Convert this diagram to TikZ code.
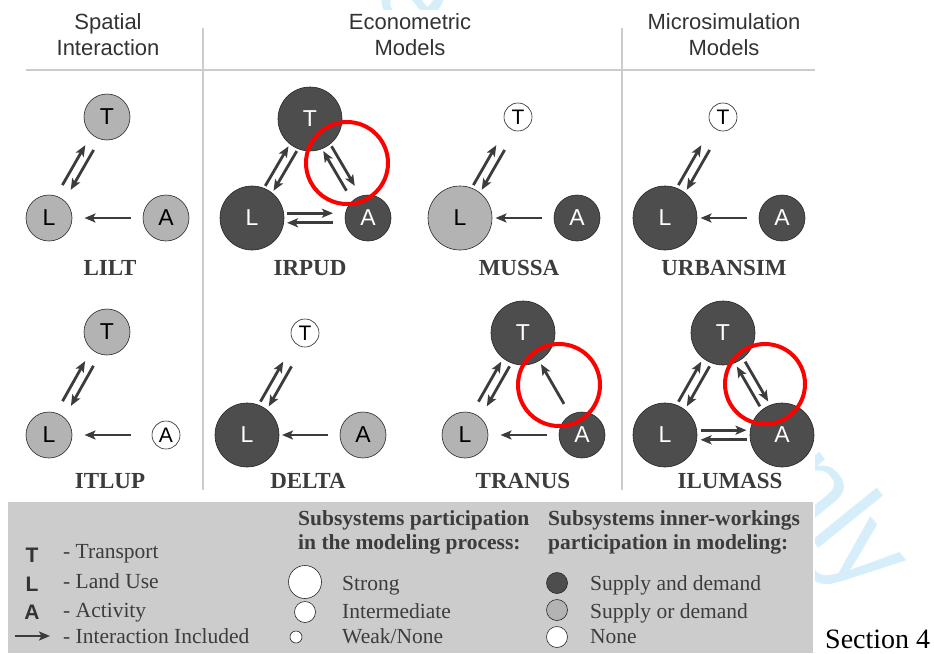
\documentclass[tikz,border=0pt]{standalone}
\usepackage{fontspec}
\setmainfont{Liberation Serif}
\setsansfont{Liberation Sans}
\usetikzlibrary{arrows.meta,calc}

\definecolor{sdfill}{RGB}{77,77,77}
\definecolor{sodfill}{RGB}{179,179,179}
\definecolor{ink}{RGB}{60,60,60}
\definecolor{divider}{RGB}{204,204,204}
\definecolor{panel}{RGB}{204,204,204}
\definecolor{wmark}{RGB}{213,238,250}

\newcommand\oneway[3][0pt]{\draw[flow] ($(#2)!.5!(#3)!23pt!(#2)!#1!90:(#3)$) -- ($(#2)!.5!(#3)!23pt!(#3)!#1!90:(#3)$);}
\newcommand\twoway[2]{\oneway[4.8pt]{#1}{#2}\oneway[4.8pt]{#2}{#1}}

\begin{document}
\begin{tikzpicture}[
  x=1pt,y=-1pt,
  sub/.style={circle,draw=black!85,line width=.6pt,inner sep=0pt,font=\sffamily\fontsize{23}{23}\selectfont},
  strong/.style={sub,minimum size=64pt},
  inter/.style={sub,minimum size=46pt},
  weak/.style={sub,minimum size=28pt,font=\sffamily\fontsize{21}{21}\selectfont},
  sd/.style={fill=sdfill,text=white},
  sod/.style={fill=sodfill,text=black},
  nil/.style={fill=white,text=black},
  flow/.style={draw=ink,line width=2.8pt,-{Stealth[length=11pt,width=9pt,inset=2.5pt]}},
  ring/.style={draw=red,line width=4pt},
  head/.style={font=\sffamily\fontsize{22}{26}\selectfont,text=black!80,align=center,anchor=north,inner sep=0pt},
  tag/.style={font=\bfseries\fontsize{23}{23}\selectfont,text=ink,anchor=base,inner sep=0pt},
  key/.style={font=\fontsize{21.5}{24}\selectfont,text=ink,anchor=base west,inner sep=0pt},
  keyhead/.style={key,font=\bfseries\fontsize{21.5}{24.5}\selectfont,align=left,anchor=north west},
  letter/.style={font=\sffamily\bfseries\fontsize{21}{21}\selectfont,text=black!80,anchor=base,inner sep=0pt}
]
  \useasboundingbox (0,0) rectangle (934,653);
  \clip (0,0) rectangle (934,653);
  \node[font=\sffamily\fontsize{115}{115}\selectfont,text=wmark,rotate=-51,anchor=base east,inner sep=0pt] (watermark) at (860,599) {For Peer Review Only};
  \fill[white] (0,10) rectangle (815,653);

  \node[head] (spatial) at (108,13) {Spatial\\Interaction};
  \node[head] (econ) at (410,13) {Econometric\\Models};
  \node[head] (micro) at (724,13) {Microsimulation\\Models};
  \draw[divider,line width=2pt] (26,70) -- (815,70);
  \draw[divider,line width=2pt] (203,28) -- (203,490);
  \draw[divider,line width=2pt] (622,28) -- (622,490);

  \begin{scope}[shift={(107,218)}]
    \node[inter,sod] (liltT) at (0,-101) {T};
    \node[inter,sod] (liltL) at (-58,0) {L};
    \node[inter,sod] (liltA) at (59,0) {A};
    \node[tag] (liltName) at (3,57) {LILT};
  \end{scope}
  \twoway{liltL}{liltT}
  \oneway{liltA}{liltL}

  \begin{scope}[shift={(310,218)}]
    \node[strong,sd] (irpudT) at (0,-99) {T};
    \node[strong,sd] (irpudL) at (-58,0) {L};
    \node[inter,sd] (irpudA) at (58,0) {A};
    \node[tag] (irpudName) at (0,57) {IRPUD};
  \end{scope}
  \twoway{irpudL}{irpudT}
  \twoway{irpudA}{irpudT}
  \twoway{irpudL}{irpudA}
  \draw[ring] (347,163) circle[radius=41];

  \begin{scope}[shift={(518,218)}]
    \node[weak,nil] (mussaT) at (0,-101) {T};
    \node[strong,sod] (mussaL) at (-58,0) {L};
    \node[inter,sd] (mussaA) at (59,0) {A};
    \node[tag] (mussaName) at (1,57) {MUSSA};
  \end{scope}
  \twoway{mussaL}{mussaT}
  \oneway{mussaA}{mussaL}

  \begin{scope}[shift={(723,218)}]
    \node[weak,nil] (urbanT) at (0,-101) {T};
    \node[strong,sd] (urbanL) at (-58,0) {L};
    \node[inter,sd] (urbanA) at (59,0) {A};
    \node[tag] (urbanName) at (1,57) {URBANSIM};
  \end{scope}
  \twoway{urbanL}{urbanT}
  \oneway{urbanA}{urbanL}

  \begin{scope}[shift={(107,435)}]
    \node[inter,sod] (itlupT) at (0,-103) {T};
    \node[inter,sod] (itlupL) at (-58,0) {L};
    \node[weak,nil] (itlupA) at (59,0) {A};
    \node[tag] (itlupName) at (3,53) {ITLUP};
  \end{scope}
  \twoway{itlupL}{itlupT}
  \oneway{itlupA}{itlupL}

  \begin{scope}[shift={(305,435)}]
    \node[weak,nil] (deltaT) at (0,-102) {T};
    \node[strong,sd] (deltaL) at (-58,0) {L};
    \node[inter,sod] (deltaA) at (58,0) {A};
    \node[tag] (deltaName) at (3,53) {DELTA};
  \end{scope}
  \twoway{deltaL}{deltaT}
  \oneway{deltaA}{deltaL}

  \begin{scope}[shift={(523,435)}]
    \node[strong,sd] (tranusT) at (0,-102) {T};
    \node[inter,sod] (tranusL) at (-58,0) {L};
    \node[inter,sd] (tranusA) at (59,0) {A};
    \node[tag] (tranusName) at (0,53) {TRANUS};
  \end{scope}
  \twoway{tranusL}{tranusT}
  \oneway{tranusA}{tranusT}
  \oneway{tranusA}{tranusL}
  \draw[ring] (559,385) circle[radius=41];

  \begin{scope}[shift={(723,435)}]
    \node[strong,sd] (ilumassT) at (0,-102) {T};
    \node[strong,sd] (ilumassL) at (-58,0) {L};
    \node[strong,sd] (ilumassA) at (59,0) {A};
    \node[tag] (ilumassName) at (7,53) {ILUMASS};
  \end{scope}
  \twoway{ilumassL}{ilumassT}
  \twoway{ilumassA}{ilumassT}
  \twoway{ilumassL}{ilumassA}
  \draw[ring] (765,384) circle[radius=40];

  \fill[panel] (8,502) rectangle (813,653);
  \node[letter] (keyT) at (32,562) {T};
  \node[key] (keyTransport) at (63,558) {- Transport};
  \node[letter] (keyL) at (32,591) {L};
  \node[key] (keyLand) at (63,588) {- Land Use};
  \node[letter] (keyA) at (32,619) {A};
  \node[key] (keyActivity) at (63,617) {- Activity};
  \coordinate (keyTail) at (15,636);
  \coordinate (keyTip) at (50,636);
  \draw[flow] (keyTail) -- (keyTip);
  \node[key] (keyInteraction) at (63,643) {- Interaction Included};

  \node[keyhead] (partHead) at (298,510) {Subsystems participation\\in the modeling process:};
  \node[sub,nil,minimum size=33pt] (keyStrong) at (305,582) {};
  \node[key] (keyStrongText) at (342,590) {Strong};
  \node[sub,nil,minimum size=21pt] (keyInter) at (305,612) {};
  \node[key] (keyInterText) at (342,618) {Intermediate};
  \node[sub,nil,minimum size=12pt] (keyWeak) at (296,637) {};
  \node[key] (keyWeakText) at (342,643) {Weak/None};

  \node[keyhead] (innerHead) at (548,510) {Subsystems inner-workings\\participation in modeling:};
  \node[sub,sd,minimum size=21pt] (keySD) at (557,583) {};
  \node[key] (keySDText) at (590,590) {Supply and demand};
  \node[sub,sod,minimum size=21pt] (keySOD) at (557,610) {};
  \node[key] (keySODText) at (590,618) {Supply or demand};
  \node[sub,nil,minimum size=21pt] (keyNil) at (557,637) {};
  \node[key] (keyNilText) at (590,643) {None};

  \node[font=\fontsize{28}{28}\selectfont,anchor=base west,inner sep=0pt] (section) at (825,648) {Section 4};
\end{tikzpicture}
\end{document}
